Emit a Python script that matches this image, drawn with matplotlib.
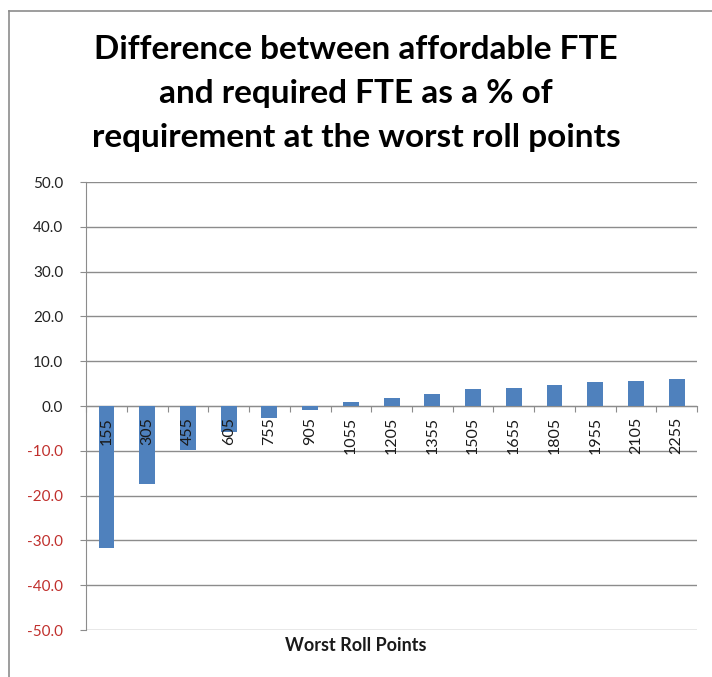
import matplotlib.pyplot as plt
from matplotlib.lines import Line2D
import numpy as np

# roll points and the % gap between affordable and required FTE
roll_points = ['155', '305', '455', '605', '755', '905', '1055', '1205',
               '1355', '1505', '1655', '1805', '1955', '2105', '2255']
pct_diff = [-31.8, -17.4, -9.8, -5.7, -2.7, -0.8, 0.8, 1.7,
            2.8, 3.7, 4.1, 4.7, 5.4, 5.7, 6.1]
y_ticks = [-50, -40, -30, -20, -10, 0, 10, 20, 30, 40, 50]

plt.rcParams['font.family'] = ['Lato', 'DejaVu Sans']

fig = plt.figure(figsize=(7.12, 6.77), dpi=100)
ax = fig.add_axes([0.121, 0.0694, 0.858, 0.6616])

x = np.arange(len(roll_points))
ax.bar(x, pct_diff, width=0.39, color='#4F81BD', zorder=3)

ax.set_xlim(-0.5, len(roll_points) - 0.5)
ax.set_ylim(-50, 50)
ax.set_yticks(y_ticks)
ax.set_yticklabels(['%.1f' % v for v in y_ticks], fontsize=11)
for lab, v in zip(ax.get_yticklabels(), y_ticks):
    lab.set_color('#C0302D' if v < 0 else '#222222')
ax.yaxis.grid(True, color='#8c8c8c', linewidth=1.0, zorder=0)
ax.tick_params(axis='y', length=4.5, color='#8c8c8c', pad=12)

# category axis sits on zero with ticks between the bars
ax.spines['bottom'].set_position(('data', 0))
ax.spines['bottom'].set_color('#8c8c8c')
ax.spines['left'].set_color('#8c8c8c')
ax.spines['top'].set_visible(False)
ax.spines['right'].set_visible(False)
ax.set_xticks(np.arange(len(roll_points) + 1) - 0.5)
ax.set_xticklabels([])
ax.tick_params(axis='x', direction='out', length=4, color='#8c8c8c')

# category names drawn on top of the bars, just under the zero line
for xi, name in zip(x, roll_points):
    ax.annotate(name, (xi, 0), xytext=(0, -8), textcoords='offset points',
                rotation=90, ha='center', va='top', fontsize=11.5,
                color='#1a1a1a', zorder=5)

fig.text(0.5, 0.046, 'Worst Roll Points', ha='center', va='center',
         fontsize=13, fontweight='bold', color='#1a1a1a')

fig.text(0.5, 0.862, 'Difference between affordable FTE\nand required FTE as a % of\n'
         'requirement at the worst roll points', ha='center', va='center',
         fontsize=24, fontweight='bold', linespacing=1.62)

# chart frame
fig.add_artist(Line2D([0.0125, 0.0125], [0.0, 0.984], color='#8c8c8c', lw=1.2,
                      transform=fig.transFigure))
fig.add_artist(Line2D([0.0125, 1.0], [0.984, 0.984], color='#8c8c8c', lw=1.2,
                      transform=fig.transFigure))

fig.savefig('out.png', dpi=100)
